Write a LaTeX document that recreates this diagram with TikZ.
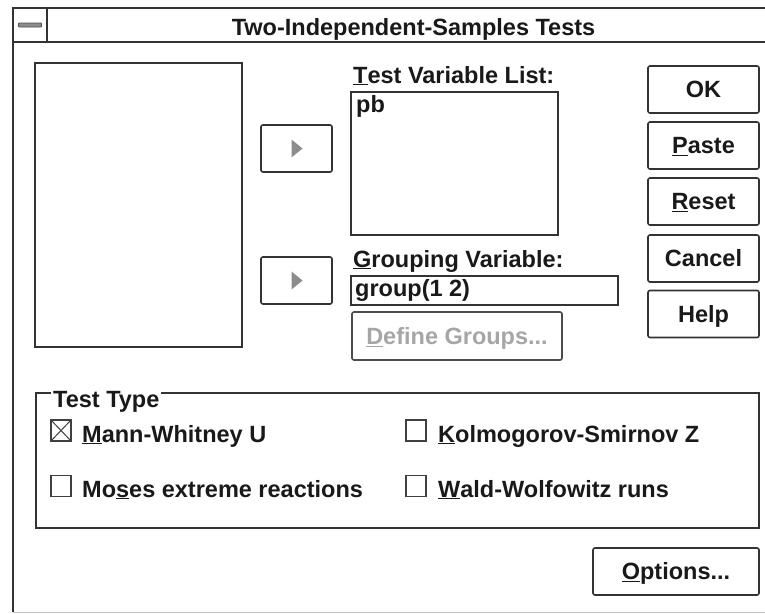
\documentclass[tikz,border=0pt]{standalone}
\usepackage{fontspec}
\setmainfont{Liberation Sans}
\usetikzlibrary{calc}
\begin{document}
\begin{tikzpicture}[x=1pt,y=-1pt,
  ui/.style={font=\fontsize{23.5}{28}\selectfont\bfseries, inner sep=0pt, text=black!90},
  frame/.style={draw=black!80, line width=1.6pt, inner sep=0pt},
  btn/.style={draw=black!80, line width=1.6pt, rounded corners=2pt, inner sep=0pt,
              font=\fontsize{23.5}{28}\selectfont\bfseries, text=black!90,
              text height=16.8pt, text depth=0pt},
  chk/.style={draw=black!75, line width=1.3pt, minimum width=20pt, minimum height=21pt, inner sep=0pt},
  tri/.style={fill=black!45}
]
\useasboundingbox (0,0) rectangle (765,613);
\fill[white] (0,0) rectangle (765,613);
% window frame
\coordinate (wtr) at (765,8);
\coordinate (wtl) at (13,8);
\coordinate (wbl) at (13,612);
\coordinate (wbr) at (765,612);
\coordinate (tbl) at (13,42);
\coordinate (tbr) at (765,42);
\coordinate (sept) at (47,8);
\coordinate (sepb) at (47,42);
\draw[black!25, line width=1pt] (wbl) -- (wbr);
\draw[black!80, line width=1.6pt] (wtr) -- (wtl) -- (wbl);
\draw[black!80, line width=1.6pt] (tbl) -- (tbr);
\draw[black!80, line width=1.6pt] (sept) -- (sepb);
\node[draw=black!70, fill=black!45, line width=0.8pt, minimum width=23pt, minimum height=4pt, inner sep=0pt, rounded corners=0.8pt] (sysmenu) at (30,25) {};
\node[ui, anchor=base] (title) at (413.5,35) {Two-Independent-Samples Tests};

% source list
\node[frame, minimum width=207pt, minimum height=284pt] (srclist) at (138.5,205) {};

% arrow buttons
\node[btn, minimum width=71pt, minimum height=47pt] (arr1) at (296.5,148.5) {};
\node[btn, minimum width=71pt, minimum height=47pt] (arr2) at (296.5,280.5) {};
\fill[tri] ($(arr1.center)+(-5,-9)$) -- ++(11,9) -- ++(-11,9) -- cycle;
\fill[tri] ($(arr2.center)+(-5,-9)$) -- ++(11,9) -- ++(-11,9) -- cycle;

% test variable list
\node[ui, anchor=base west] (tvlabel) at (353,83) {\underline{T}est Variable List:};
\node[frame, minimum width=207pt, minimum height=143pt] (tvlist) at (454.5,163.5) {};
\node[ui, anchor=base west] (pb) at (356,112) {pb};

% grouping variable
\node[ui, anchor=base west] (gvlabel) at (353,267) {\underline{G}rouping Variable:};
\node[frame, minimum width=267pt, minimum height=29pt] (gvbox) at (484.5,290.5) {};
\node[ui, anchor=base west] (gvtext) at (355,296) {group(1 2)};
\node[btn, text=black!35, minimum width=210pt, minimum height=48pt, draw=black!70] (defgrp) at (457,336) {\underline{D}efine Groups...};

% right buttons
\node[btn, minimum width=111pt, minimum height=47pt] (ok) at (703.5,89.5) {OK};
\node[btn, minimum width=111pt, minimum height=47pt] (paste) at (703.5,145.5) {\underline{P}aste};
\node[btn, minimum width=111pt, minimum height=47pt] (reset) at (703.5,201.5) {\underline{R}eset};
\node[btn, minimum width=111pt, minimum height=47pt] (cancel) at (703.5,258.5) {Cancel};
\node[btn, minimum width=111pt, minimum height=47pt] (help) at (703.5,314) {Help};

% test type group
\node[frame, minimum width=723pt, minimum height=135pt] (group) at (397.5,460.5) {};
\node[ui, anchor=base west, fill=white, inner xsep=2pt] (grplabel) at (51,407) {Test Type};

\node[chk] (c1) at (61,430.5) {};
\draw[black!75, line width=1pt] (c1.north west) -- (c1.south east) (c1.north east) -- (c1.south west);
\node[ui, anchor=base west] (t1) at (82,442) {\underline{M}ann-Whitney U};
\node[chk] (c2) at (61,486) {};
\node[ui, anchor=base west] (t2) at (82,497) {Mo\underline{s}es extreme reactions};
\node[chk] (c3) at (416,430.5) {};
\node[ui, anchor=base west] (t3) at (438,442) {\underline{K}olmogorov-Smirnov Z};
\node[chk] (c4) at (416,486) {};
\node[ui, anchor=base west] (t4) at (438,497) {\underline{W}ald-Wolfowitz runs};

% options
\node[btn, minimum width=166pt, minimum height=47pt] (options) at (676,571.5) {\underline{O}ptions...};
\end{tikzpicture}
\end{document}
